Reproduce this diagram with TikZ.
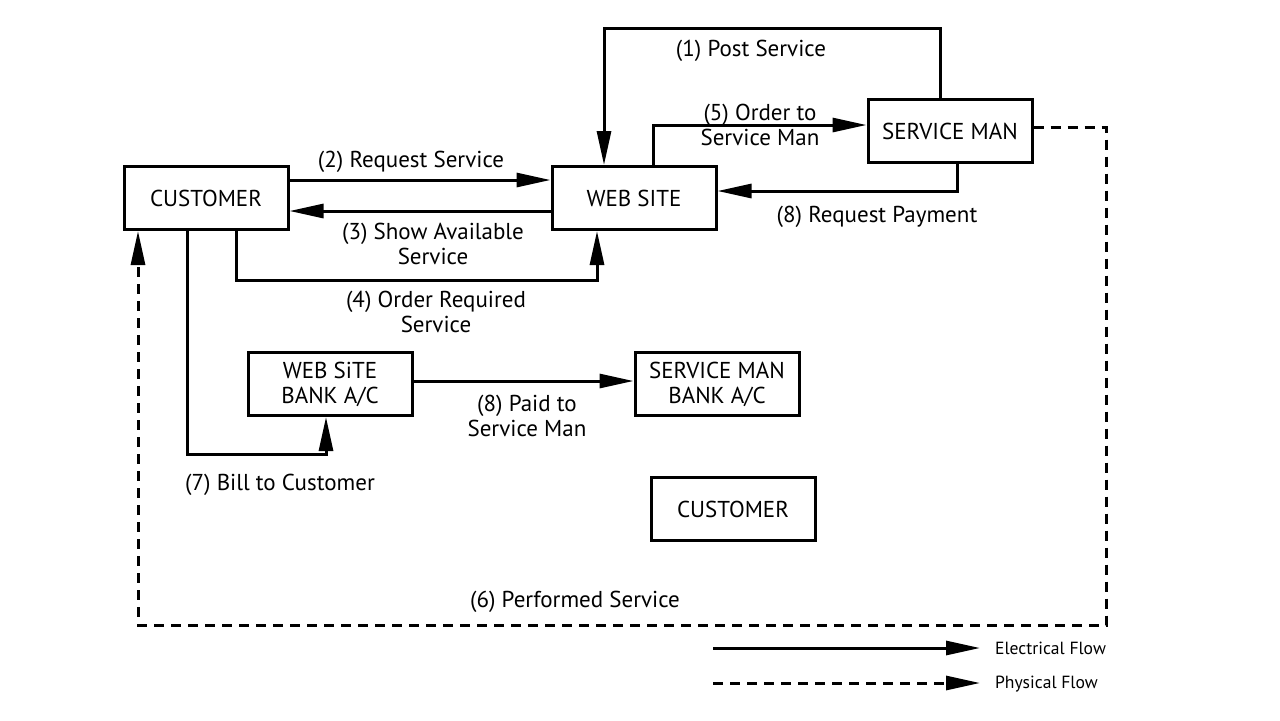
\documentclass[tikz,border=0pt]{standalone}
\usepackage{fontspec}
\setmainfont{PT Sans}
\usepackage{tikz}
\usetikzlibrary{arrows.meta}

\begin{document}
\begin{tikzpicture}[x=0.5pt, y=-0.5pt,
            every node/.style = {font=\fontsize{11.5}{12.5}\selectfont, align=center},
            box/.style = {shape=rectangle, draw, line width=1.5pt,
                          minimum width=82pt, minimum height=31.5pt, inner sep=2pt},
            flow/.style = {line width=1.5pt, -{Triangle[length=17pt, width=7pt]}},
            physical/.style = {flow, dash pattern=on 5pt off 3.5pt},
            note/.style = {font=\fontsize{8.8}{10}\selectfont, anchor=west}]
    \useasboundingbox (0,0) rectangle (1280,720);
    % boxes
    \node[box] (customer) at (206,198) {CUSTOMER};
    \node[box] (website)  at (634,198) {WEB SITE};
    \node[box] (serviceman) at (950,131) {SERVICE MAN};
    \node[box] (webbank)  at (330,384) {WEB SiTE\\BANK A/C};
    \node[box] (manbank)  at (717,384) {SERVICE MAN\\BANK A/C};
    \node[box] (customertwo) at (733,509) {CUSTOMER};
    % electrical flow
    \draw[flow] (serviceman.north -| 940,0) |- (604,28) -- (website.north -| 604,0);
    \node (post) at (751,51) {(1) Post Service};
    \draw[flow] (customer.east |- 0,180) -- (website.west |- 0,180);
    \node (request) at (411,162) {(2) Request Service};
    \draw[flow] (website.west |- 0,211) -- (customer.east |- 0,211);
    \node (show) at (433,244) {(3) Show Available\\Service};
    \draw[flow] (customer.south -| 236,0) |- (597,280) -- (website.south -| 597,0);
    \node (order) at (436,312) {(4) Order Required\\Service};
    \draw[flow] (website.north -| 653,0) |- (serviceman.west |- 0,125);
    \node (orderman) at (760,125) {(5) Order to\\Service Man};
    \draw[flow] (customer.south -| 187,0) |- (326,454) -- (webbank.south -| 326,0);
    \node (bill) at (280,485) {(7) Bill to Customer};
    \draw[flow] (serviceman.south -| 957,0) |- (website.east |- 0,191);
    \node (payment) at (877,217) {(8) Request Payment};
    \draw[flow] (webbank.east |- 0,381) -- (manbank.west |- 0,381);
    \node (paid) at (527,416) {(8) Paid to\\Service Man};
    % physical flow
    \draw[physical] (serviceman.east |- 0,127) -| (1106,625) -| (customer.south -| 138,0);
    \node (performed) at (575,602) {(6) Performed Service};
    % legend
    \coordinate (elecstart) at (713,648);
    \coordinate (elecend) at (980,648);
    \coordinate (physstart) at (713,683);
    \coordinate (physend) at (980,683);
    \draw[flow] (elecstart) -- (elecend);
    \draw[physical] (physstart) -- (physend);
    \node[note] (elec) at (988,648) {Electrical Flow};
    \node[note] (phys) at (988,684) {Physical Flow};
\end{tikzpicture}
\end{document}
